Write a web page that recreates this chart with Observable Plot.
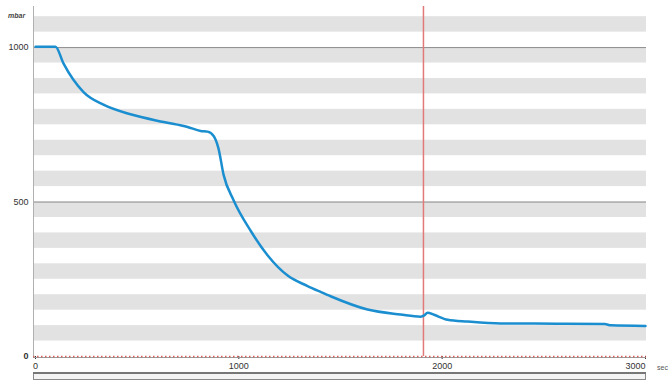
<!DOCTYPE html>
<html>
<head>
<meta charset="utf-8">
<script src="https://cdn.jsdelivr.net/npm/d3@7"></script>
<script src="https://cdn.jsdelivr.net/npm/@observablehq/plot@0.6"></script>
<style>
  html, body { margin: 0; padding: 0; background: #fff; }
  #wrap { width: 672px; height: 380px; overflow: hidden; }
  #wrap svg { display: block; }
</style>
</head>
<body>
<div id="wrap"></div>
<script>
// time in seconds
const timeSec = [0, 60, 98, 138, 236, 334, 467, 630, 748, 812, 846, 876, 900, 925, 974, 1058, 1141, 1240, 1338, 1402, 1451, 1633, 1795, 1894, 1912, 1928, 1960, 2027, 2125, 2287, 2435, 2600, 2800, 2830, 3000];
// pressure in mbar
const pressure = [1003, 1003, 1003, 948, 856, 815, 784, 759, 743, 730, 728, 714, 673, 588, 506, 407, 328, 262, 228, 209, 195, 152, 136, 129, 133, 142, 135, 119, 113, 107, 107, 106, 105, 101, 99];
const yTicks = [0, 500, 1000];
const xTicks = [0, 1000, 2000, 3000];
const markerSec = 1908;
const bandLows = [50, 150, 250, 350, 450, 550, 650, 750, 850, 950, 1050];
const bandHeight = 50;

const data = timeSec.map((t, i) => ({t, p: pressure[i]}));
const bands = bandLows.map(lo => ({lo, hi: lo + bandHeight}));

const chart = Plot.plot({
  width: 672,
  height: 380,
  marginLeft: 33,
  marginRight: 26,
  marginTop: 6,
  marginBottom: 24,
  style: {fontFamily: "Liberation Sans, Arial, sans-serif", fontSize: "9px", color: "#333", background: "#fff"},
  x: {domain: [-10, 3005], ticks: xTicks, tickSize: 3, tickPadding: 3, label: null, tickFormat: d => String(d)},
  y: {domain: [0, 1133], ticks: yTicks, tickSize: 0, tickPadding: 5, label: null, tickFormat: d => String(d)},
  marks: [
    Plot.rect(bands, {y1: "lo", y2: "hi", fill: "#e2e2e2"}),
    Plot.ruleY([500, 1000], {stroke: "#8c8c8c", strokeWidth: 1}),
    Plot.ruleY([0], {stroke: "#9a9a9a", strokeWidth: 1, dy: 1}),
    Plot.ruleY([0], {stroke: "#d23a3a", strokeWidth: 1.5, strokeDasharray: "1.5,2.5", strokeOpacity: 0.8}),
    Plot.ruleX([-10], {stroke: "#b0b0b0", strokeWidth: 1}),
    Plot.ruleX([markerSec], {stroke: "#e07a7a", strokeWidth: 1.5}),
    Plot.line(data, {x: "t", y: "p", stroke: "#1b8ed0", strokeWidth: 2.5, curve: "monotone-x"})
  ]
});

const svg = d3.select(chart);
// right-align the last x tick label like the reference
const xLabels = svg.selectAll("g[aria-label='x-axis tick label'] text");
xLabels.filter((d, i, n) => i === n.length - 1).attr("text-anchor", "end").attr("dx", 0);
// y "0" label bold
svg.selectAll("g[aria-label='y-axis tick label'] text").filter((d, i) => i === 0).attr("font-weight", "bold");

svg.append("text").attr("x", 8).attr("y", 18).attr("text-anchor", "start").attr("font-size", 7).attr("font-style", "italic").attr("font-weight", "bold").attr("fill", "#444").text("mbar");
svg.append("text").attr("x", 657).attr("y", 370).attr("text-anchor", "start").attr("font-size", 7).attr("fill", "#555").text("sec");
// scrollbar-like strip under the axis
const strip = svg.append("g").attr("aria-label", "scroll strip");
strip.append("rect").attr("x", 33.5).attr("y", 372.5).attr("width", 612).attr("height", 7).attr("fill", "#f4f4f4").attr("stroke", "#8a8a8a").attr("stroke-width", 1);
strip.append("line").attr("x1", 33).attr("x2", 646).attr("y1", 373).attr("y2", 373).attr("stroke", "#777").attr("stroke-width", 2);

document.getElementById("wrap").appendChild(chart);
</script>
</body>
</html>
